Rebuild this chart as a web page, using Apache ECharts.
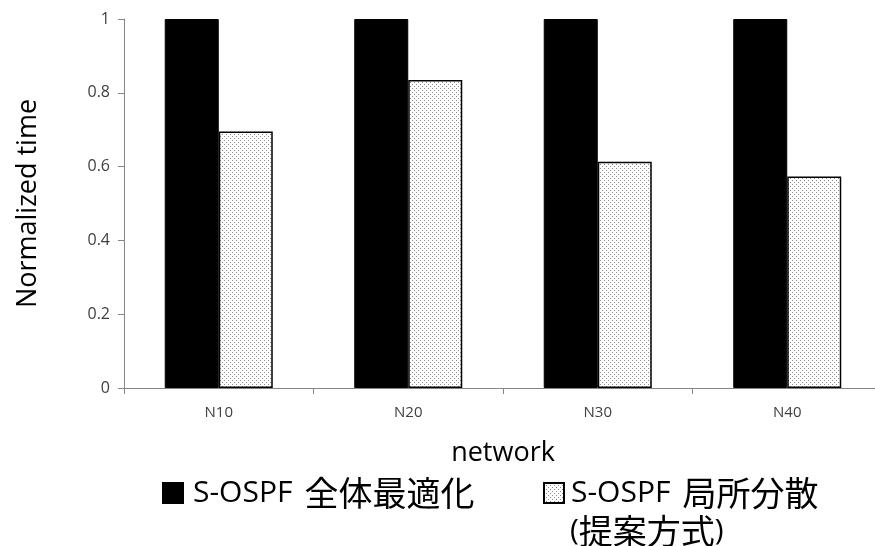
<!DOCTYPE html>
<html>
<head>
<meta charset="utf-8">
<script src="https://cdn.jsdelivr.net/npm/echarts@6/dist/echarts.min.js"></script>
<style>
  html, body { margin: 0; padding: 0; background: #fff; }
  #chart { width: 875px; height: 546px; }
</style>
</head>
<body>
<div id="chart"></div>
<script>
// Networks on the x axis
const categories = ['N10', 'N20', 'N30', 'N40'];
// Normalized computation time per method
const globalOpt = [1, 1, 1, 1];
const localDist = [0.695, 0.835, 0.613, 0.573];
const seriesNames = ['S-OSPF 全体最適化', 'S-OSPF 局所分散'];
const yTicks = [0, 0.2, 0.4, 0.6, 0.8, 1];

// Fine dotted fill for the proposed method
function dotPattern() {
  const c = document.createElement('canvas');
  c.width = 4; c.height = 4;
  const g = c.getContext('2d');
  g.fillStyle = '#ffffff';
  g.fillRect(0, 0, 4, 4);
  g.fillStyle = '#8a8a8a';
  g.fillRect(0, 0, 1, 1);
  g.fillRect(2, 2, 1, 1);
  return c;
}
const dots = { image: dotPattern(), repeat: 'repeat' };

const latin = "'Open Sans', 'Noto Sans CJK JP', sans-serif";
const cjk = "'Noto Sans CJK JP', sans-serif";

// Legend label: latin prefix and Japanese method name in their own sizes
function legendLabel(name) {
  const i = name.indexOf(' ');
  return '{a|' + name.slice(0, i) + '}{b|' + name.slice(i + 1) + '}';
}
function legendItem(idx, left, textGap) {
  return {
    data: [{ name: seriesNames[idx], icon: 'rect' }], left: left, top: 471,
    itemWidth: 20, itemHeight: 20, itemGap: 0,
    formatter: legendLabel,
    textStyle: {
      color: '#000',
      rich: {
        a: { fontSize: 30, fontFamily: latin, color: '#000', padding: [0, 0, 0, textGap] },
        b: { fontSize: 34, fontFamily: cjk, color: '#000', padding: [0, 0, 0, 12] }
      }
    }
  };
}

const chart = echarts.init(document.getElementById('chart'), null, { renderer: 'canvas' });
chart.setOption({
  animation: false,
  backgroundColor: '#ffffff',
  // the plot runs past the right edge of the canvas
  grid: { left: 124, top: 19, width: 758, height: 369, containLabel: false, outerBoundsMode: 'none' },
  legend: [legendItem(0, 157, 5), legendItem(1, 538, 2)],
  graphic: [{
    type: 'text', left: 570, top: 514,
    style: {
      text: '{a|(}{b|提案方式}{a|)}',
      rich: {
        a: { fontSize: 30, fontFamily: latin, fill: '#000' },
        b: { fontSize: 34, fontFamily: cjk, fill: '#000' }
      }
    }
  }],
  xAxis: {
    type: 'category', data: categories,
    name: 'network', nameLocation: 'middle', nameGap: 52,
    nameTextStyle: { fontSize: 27, color: '#000', fontFamily: latin },
    axisLine: { lineStyle: { color: '#868686', width: 1 } },
    axisTick: { show: true, alignWithLabel: false, length: 6, lineStyle: { color: '#868686' } },
    axisLabel: { fontSize: 15, color: '#404040', margin: 17, fontFamily: latin }
  },
  yAxis: {
    type: 'value', min: 0, max: 1, interval: 0.2,
    name: 'Normalized time', nameLocation: 'middle', nameGap: 82, nameRotate: 90,
    nameTextStyle: { fontSize: 27, color: '#000', fontFamily: latin },
    axisLine: { show: true, lineStyle: { color: '#868686', width: 1 } },
    axisTick: { show: true, inside: false, length: 6, lineStyle: { color: '#868686' } },
    splitLine: { show: false },
    axisLabel: {
      fontSize: 16, color: '#404040', margin: 14, fontFamily: latin,
      formatter: v => (yTicks.includes(+v.toFixed(1)) ? String(+v.toFixed(1)) : '')
    }
  },
  series: [
    {
      name: seriesNames[0], type: 'bar', data: globalOpt,
      barWidth: '28.5%', barGap: '0%',
      itemStyle: { color: '#000000', borderColor: '#000000', borderWidth: 1 }
    },
    {
      name: seriesNames[1], type: 'bar', data: localDist,
      barWidth: '28.5%', barGap: '0%',
      itemStyle: { color: dots, borderColor: '#000000', borderWidth: 1.5 }
    }
  ]
});
</script>
</body>
</html>
